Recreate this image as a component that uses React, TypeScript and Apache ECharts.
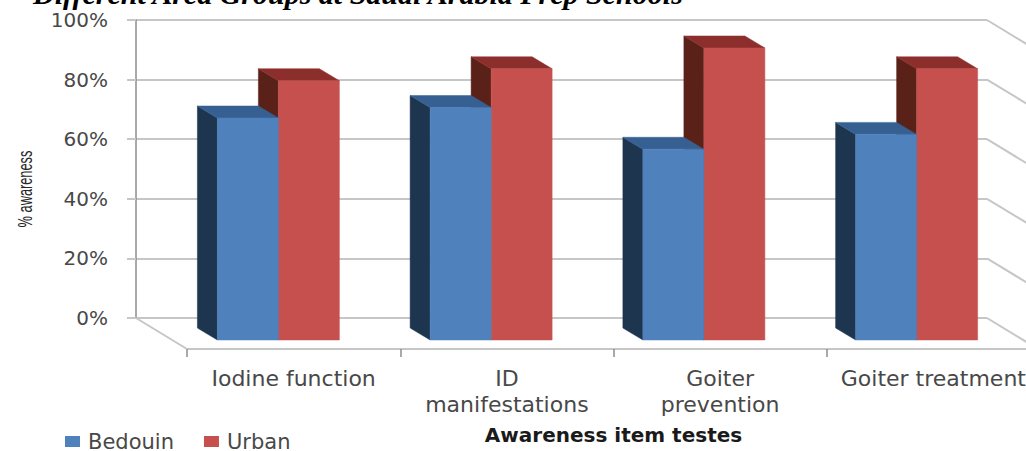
import React, { useEffect, useRef } from "react";
import * as echarts from "echarts";

const categories = ["Iodine function", "ID\nmanifestations", "Goiter\nprevention", "Goiter treatment"];
const bedouin = [74.5, 78, 64, 69];
const urban = [87, 91, 98, 91];
const yTicks = [0, 20, 40, 60, 80, 100];
const titleText = "Different Area Groups at Saudi Arabia Prep Schools";
const yTitle = "% awareness";

const BAR_W = 61;
const PLANE_DX = 36;
const PLANE_DY = 22;
const DEPTH_DX = 20;
const DEPTH_DY = 12;
const WALL_DX = 51;
const WALL_DY = 31;
const GRID_LINE = "#C6C6C6";
const TEXT = "#484848";

function barRenderer(front: string, side: string, top: string, shift: number) {
  return (_p: any, api: any) => {
    const pt = api.coord([api.value(0), api.value(1)]);
    const base = api.coord([api.value(0), 0]);
    const x = pt[0] + PLANE_DX + shift;
    const y = pt[1] + PLANE_DY;
    const b = base[1] + PLANE_DY;
    const poly = (points: number[][], fill: string) => ({
      type: "polygon",
      shape: { points },
      style: { fill, stroke: fill, lineWidth: 0.5 },
    });
    return {
      type: "group",
      children: [
        poly([[x, y], [x, b], [x - DEPTH_DX, b - DEPTH_DY], [x - DEPTH_DX, y - DEPTH_DY]], side),
        poly([[x, y], [x + BAR_W, y], [x + BAR_W - DEPTH_DX, y - DEPTH_DY], [x - DEPTH_DX, y - DEPTH_DY]], top),
        poly([[x, y], [x + BAR_W, y], [x + BAR_W, b], [x, b]], front),
      ],
    };
  };
}

function frameRenderer(_p: any, api: any) {
  const v = api.value(1);
  const last = categories.length - 1;
  const half = api.size([1, 0])[0] / 2;
  const cx = api.coord([last, v]);
  const rx = cx[0] + half;
  const lines: any[] = [
    {
      type: "line",
      shape: { x1: rx, y1: cx[1], x2: rx + WALL_DX, y2: cx[1] + WALL_DY },
      style: { stroke: GRID_LINE, lineWidth: 2 },
    },
  ];
  if (v === 0) {
    const lx = api.coord([0, 0])[0] - half;
    lines.push({
      type: "line",
      shape: { x1: lx, y1: cx[1], x2: lx + WALL_DX, y2: cx[1] + WALL_DY },
      style: { stroke: GRID_LINE, lineWidth: 2 },
    });
  }
  return { type: "group", children: lines };
}

export default function App() {
  const ref = useRef<HTMLDivElement>(null);
  useEffect(() => {
    document.body.style.margin = "0";
    const chart = echarts.init(ref.current!, undefined, { renderer: "svg" });
    chart.setOption({
      animation: false,
      backgroundColor: "#FFFFFF",
      title: {
        text: titleText,
        left: 28,
        top: -27,
        textStyle: { fontFamily: "Liberation Serif", fontStyle: "italic", fontWeight: "bold", fontSize: 30, color: "#000" },
      },
      legend: {
        data: ["Bedouin", "Urban"],
        left: 60,
        top: 426,
        icon: "rect",
        itemWidth: 15,
        itemHeight: 11,
        itemGap: 30,
        textStyle: { fontFamily: "DejaVu Sans", fontSize: 21, color: TEXT, padding: [0, 0, 0, 3] },
      },
      graphic: [
        {
          type: "text",
          x: 25,
          y: 189,
          rotation: Math.PI / 2,
          scaleX: 0.64,
          style: {
            text: yTitle,
            fontFamily: "Liberation Sans",
            fontSize: 20,
            fill: "#262626",
            align: "center",
            verticalAlign: "middle",
          },
        },
      ],
      grid: [
        { left: 136, top: 20, width: 851, height: 298 },
        { left: 187, top: 348, width: 853, height: 1 },
      ],
      xAxis: [
        {
          gridIndex: 0,
          type: "category",
          data: categories,
          axisLine: { show: false },
          axisTick: { show: false },
          axisLabel: { show: false },
          splitLine: { show: false },
        },
        {
          gridIndex: 1,
          type: "category",
          data: categories,
          position: "bottom",
          axisLine: { show: true, lineStyle: { color: GRID_LINE, width: 2 } },
          axisTick: { show: true, length: 8, lineStyle: { color: "#8C8C8C", width: 1.5 } },
          axisLabel: {
            interval: 0,
            margin: 16,
            hideOverlap: false,
            fontFamily: "DejaVu Sans",
            fontSize: 22,
            lineHeight: 26,
            color: TEXT,
          },
          name: "Awareness item testes",
          nameLocation: "middle",
          nameGap: 76,
          nameTextStyle: { fontFamily: "DejaVu Sans", fontWeight: "bold", fontSize: 20, color: "#1A1A1A" },
        },
      ],
      yAxis: [
        {
          gridIndex: 0,
          type: "value",
          min: 0,
          max: 100,
          interval: 20,
          axisLine: { show: true, lineStyle: { color: "#8C8C8C", width: 1.5 } },
          axisTick: { show: true, length: 9, lineStyle: { color: GRID_LINE, width: 2 } },
          splitLine: { show: true, lineStyle: { color: GRID_LINE, width: 2 } },
          axisLabel: {
            margin: 28,
            fontFamily: "DejaVu Sans",
            fontSize: 20,
            color: TEXT,
            formatter: (v: number) => `${v}%`,
          },
        },
        { gridIndex: 1, type: "value", show: false, min: 0, max: 1 },
      ],
      series: [
        {
          name: "frame",
          type: "custom",
          xAxisIndex: 0,
          yAxisIndex: 0,
          silent: true,
          z: 1,
          renderItem: frameRenderer,
          data: yTicks.map((v) => [0, v]),
          encode: { x: 0, y: 1 },
        },
        {
          name: "Urban",
          type: "custom",
          xAxisIndex: 0,
          yAxisIndex: 0,
          z: 2,
          itemStyle: { color: "#C6504D" },
          renderItem: barRenderer("#C6504D", "#5A2119", "#8C2F2C", 0),
          data: urban.map((v, i) => [i, v]),
          encode: { x: 0, y: 1 },
        },
        {
          name: "Bedouin",
          type: "custom",
          xAxisIndex: 0,
          yAxisIndex: 0,
          z: 3,
          itemStyle: { color: "#4F81BD" },
          renderItem: barRenderer("#4F81BD", "#1E3550", "#376092", -BAR_W),
          data: bedouin.map((v, i) => [i, v]),
          encode: { x: 0, y: 1 },
        },
      ],
    });
    return () => chart.dispose();
  }, []);
  return (
    <div style={{ width: 1026, height: 451, overflow: "hidden" }}>
      <div ref={ref} style={{ width: 1060, height: 451 }} />
    </div>
  );
}
